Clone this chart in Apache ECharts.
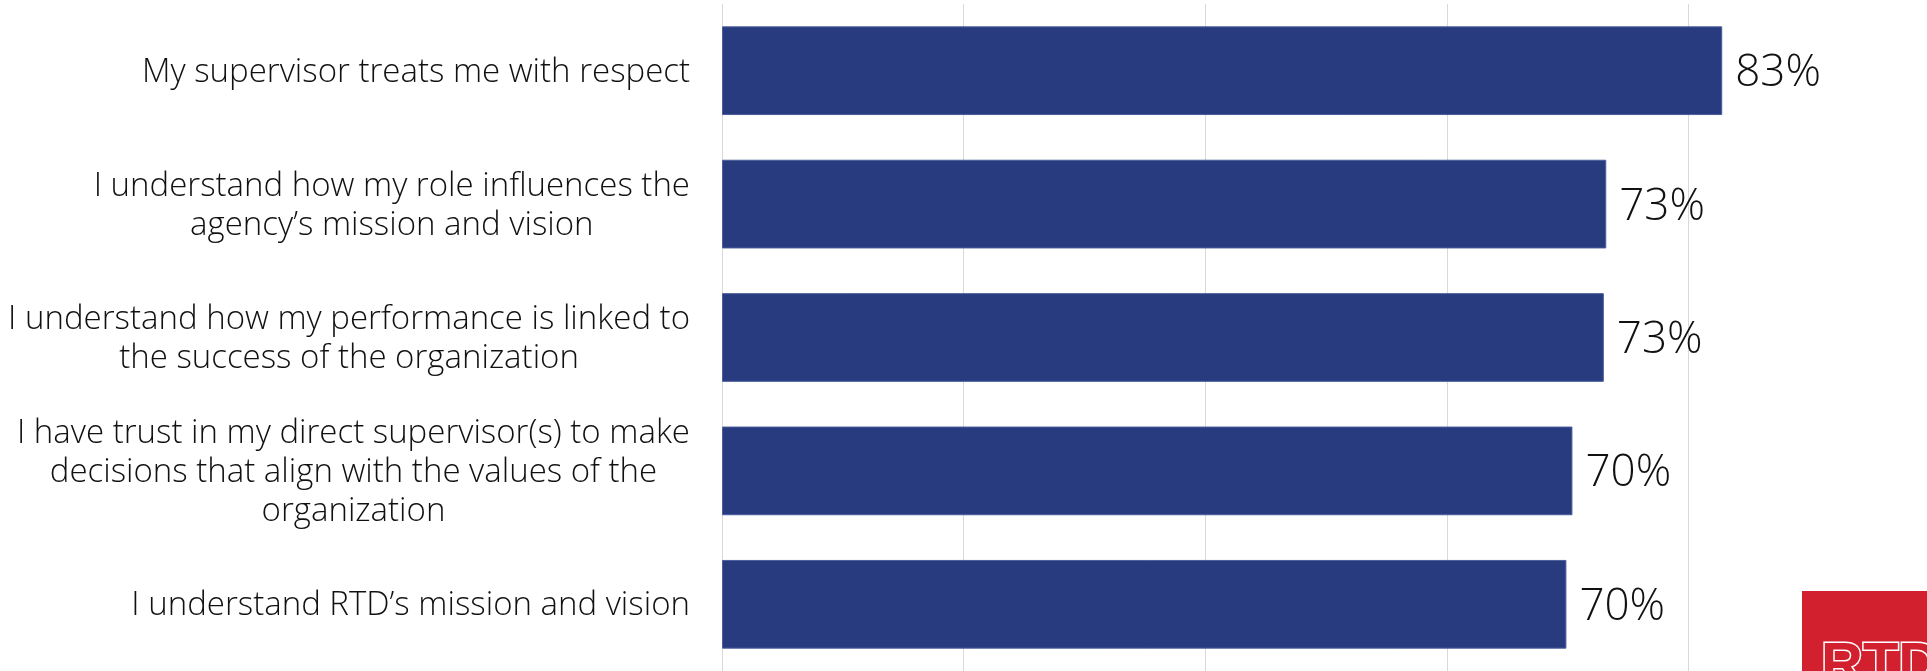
<!DOCTYPE html>
<html>
<head>
<meta charset="utf-8">
<script src="https://cdn.jsdelivr.net/npm/echarts@6/dist/echarts.min.js"></script>
<style>
  html, body { margin: 0; padding: 0; background: #fff; }
  #chart { width: 1927px; height: 671px; }
</style>
</head>
<body>
<div id="chart"></div>
<script>
// Survey statements (top to bottom) and share of agreement, in percent
const categories = [
  'My supervisor treats me with respect',
  'I understand how my role influences the\nagency\u2019s mission and vision',
  'I understand how my performance is linked to\nthe success of the organization',
  'I have trust in my direct supervisor(s) to make\ndecisions that align with the values of the\norganization',
  'I understand RTD\u2019s mission and vision'
];
const values = [82.8, 73.2, 73.0, 70.4, 69.9];

// Value axis: 0..100 with a gridline every 20
const axisMin = 0;
const axisMax = 100;
const axisStep = 20;

const chart = echarts.init(document.getElementById('chart'), null, { renderer: 'canvas' });

chart.setOption({
  animation: false,
  backgroundColor: '#ffffff',
  grid: {
    left: 722, top: 4, width: 1208, height: 667,
    containLabel: false,
    outerBoundsMode: 'none'
  },
  xAxis: {
    type: 'value',
    min: axisMin,
    max: axisMax,
    interval: axisStep,
    axisLine: { show: false },
    axisTick: { show: false },
    axisLabel: { show: false },
    splitLine: { show: true, lineStyle: { color: '#d9d9d9', width: 1 } }
  },
  yAxis: {
    type: 'category',
    data: categories,
    inverse: true,
    axisLine: { show: false },
    axisTick: { show: false },
    axisLabel: {
      margin: 32,
      align: 'right',
      formatter: function (v) {
        return v.split('\n').map(function (line) { return '{c|' + line + '}'; }).join('\n');
      },
      rich: {
        c: {
          align: 'center',
          fontFamily: 'Open Sans',
          fontWeight: 300,
          fontSize: 33,
          lineHeight: 39,
          color: '#111111',
          padding: [3, 0, 0, 0]
        }
      }
    }
  },
  series: [{
    type: 'bar',
    data: values,
    barCategoryGap: '33.5%',
    itemStyle: { color: '#283b7f', borderColor: '#4a5d9c', borderWidth: 1 },
    label: {
      show: true,
      position: 'right',
      distance: 13,
      offset: [0, 3],
      fontFamily: 'Open Sans',
      fontWeight: 300,
      fontSize: 44,
      color: '#111111',
      formatter: function (p) { return Math.round(p.value) + '%'; }
    }
  }],
  graphic: [
    {
      type: 'rect',
      shape: { x: 1802, y: 591, width: 125, height: 80 },
      style: { fill: '#d2202f' },
      silent: true
    },
    {
      type: 'text',
      x: 1821,
      y: 638,
      style: {
        text: 'RTD',
        fontFamily: 'Liberation Sans Narrow, Liberation Sans',
        fontWeight: 'bold',
        fontSize: 58,
        fill: '#d2202f',
        stroke: '#ffffff',
        lineWidth: 3,
        textVerticalAlign: 'top'
      },
      silent: true
    }
  ]
});
</script>
</body>
</html>
